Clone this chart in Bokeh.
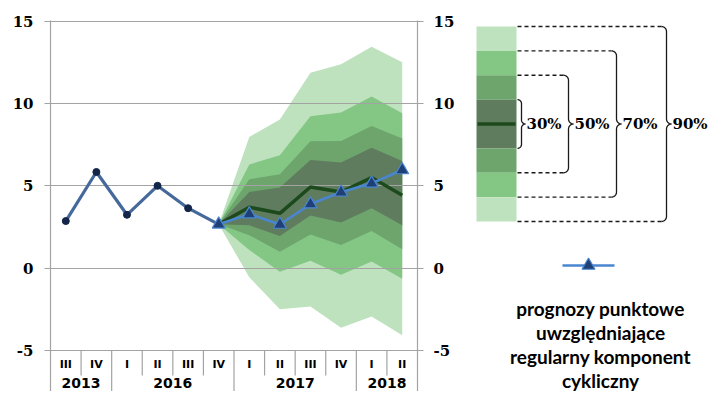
import numpy as np
from bokeh.plotting import figure
from bokeh.models import (FactorRange, Range1d, LinearAxis, FixedTicker,
                          PrintfTickFormatter)
from bokeh.layouts import row
from bokeh.embed import file_html
from bokeh.resources import INLINE
from bokeh.core.properties import value

# ---------------- data ----------------
years = ["2013", "2013", "2016", "2016", "2016", "2016",
         "2017", "2017", "2017", "2017", "2018", "2018"]
quarters = ["III", "IV", "I", "II", "III", "IV",
            "I", "II", "III", "IV", "I", "II"]
hist_values = [2.86, 5.84, 3.24, 5.00, 3.64, 2.66]          # III 2013 .. IV 2016
fan_first = 5                                               # fan starts at IV 2016
central = [2.66, 3.70, 3.33, 4.93, 4.62, 5.50, 4.43]
forecast = [2.66, 3.28, 2.65, 3.89, 4.61, 5.15, 5.96]
hi90 = [2.66, 7.97, 9.03, 11.86, 12.38, 13.45, 12.50]
lo90 = [2.66, -0.55, -2.50, -2.33, -3.62, -2.93, -4.07]
hi70 = [2.66, 6.30, 6.85, 9.22, 9.45, 10.42, 9.40]
lo70 = [2.66, 1.10, -0.22, 0.45, -0.40, 0.40, -0.65]
hi50 = [2.66, 5.40, 5.70, 7.71, 7.72, 8.64, 7.87]
lo50 = [2.66, 2.00, 1.00, 2.05, 1.40, 2.25, 1.15]
hi30 = [2.66, 4.62, 4.90, 6.56, 6.42, 7.31, 6.50]
lo30 = [2.66, 2.60, 1.95, 3.20, 2.77, 3.64, 2.60]
y_ticks = [-5, 0, 5, 10, 15]
band_labels = ["30%", "50%", "70%", "90%"]
legend_text = ["prognozy punktowe", "uwzględniające", "regularny komponent", "cykliczny"]

# ---------------- styles ----------------
C90, C70, C50, C30 = "#bee2be", "#84c684", "#6da56d", "#5f7c5f"
CCENTRAL = "#1c4a1c"
CHIST = "#46699b"
CFORE = "#4a86d0"
CTRI = "#1f3f77"
GRID = "#a3a3a3"

factors = list(zip(years, quarters))
fan_x = factors[fan_first:]

x_range = FactorRange(*factors, factor_padding=0, group_padding=0,
                      subgroup_padding=0, range_padding=0)

FIG_H = 391
TOP = 21
px_per_unit = (350 - TOP) / 20.0
frame_h = FIG_H - TOP
y_top = 15.0
y_bottom = y_top - frame_h / px_per_unit
y_range = Range1d(y_bottom, y_top + 0.04)

p = figure(width=457, height=FIG_H, x_range=x_range, y_range=y_range,
           output_backend="svg", toolbar_location=None,
           x_axis_location=None, y_axis_location="left",
           min_border_left=50, min_border_right=38, min_border_top=TOP - 1,
           min_border_bottom=0)
p.outline_line_color = None
p.xgrid.visible = False
p.ygrid.visible = False

# fan bands
for lo, hi, c in [(lo90, hi90, C90), (lo70, hi70, C70), (lo50, hi50, C50), (lo30, hi30, C30)]:
    p.varea(x=fan_x, y1=lo, y2=hi, fill_color=c)

# gridlines drawn over the bands
p.hspan(y=y_ticks, line_color=GRID, line_width=1.2)

# category table below the plot
q_y = -5 - 14 / px_per_unit
yr_y = -5 - 33 / px_per_unit
short_end = -5 - 25 / px_per_unit
sep_x, sep_y1 = [], []
for i in range(1, len(factors)):
    sep_x.append((years[i], quarters[i], -0.5))
    sep_y1.append(y_bottom if years[i] != years[i - 1] else short_end)
p.segment(x0=sep_x, x1=sep_x, y0=[-5] * len(sep_x), y1=sep_y1,
          line_color=GRID, line_width=1.2)
p.text(x=factors, y=[q_y] * len(factors), text=quarters,
       text_align="center", text_baseline="middle",
       text_font=value("DejaVu Sans"), text_font_style="bold",
       text_font_size="11px", text_color="black")
uniq_years = list(dict.fromkeys(years))
p.text(x=uniq_years, y=[yr_y] * len(uniq_years), text=uniq_years,
       text_align="center", text_baseline="middle",
       text_font=value("DejaVu Sans"), text_font_style="bold",
       text_font_size="14px", text_color="black")

# historical
p.line(x=factors[:len(hist_values)], y=hist_values, line_color=CHIST, line_width=3.2)
p.scatter(x=factors[:len(hist_values) - 1], y=hist_values[:-1], size=7,
          fill_color="#14254a", line_color="#14254a")

# central path and forecast
p.line(x=fan_x, y=central, line_color=CCENTRAL, line_width=3.5)
p.line(x=fan_x, y=forecast, line_color=CFORE, line_width=2.6)
p.scatter(x=fan_x, y=forecast, marker="triangle", size=13,
          fill_color=CTRI, line_color=CFORE, line_width=1.2)

# axes
def style_axis(ax):
    ax.ticker = FixedTicker(ticks=y_ticks)
    ax.formatter = PrintfTickFormatter(format="%d")
    ax.axis_line_color = GRID
    ax.axis_line_width = 1.2
    ax.major_tick_line_color = GRID
    ax.major_tick_line_width = 1.2
    ax.major_tick_in = 0
    ax.major_tick_out = 6
    ax.minor_tick_line_color = None
    ax.major_label_text_font = "DejaVu Serif"
    ax.major_label_text_font_style = "bold"
    ax.major_label_text_font_size = "15px"
    ax.major_label_text_color = "black"

style_axis(p.yaxis[0])
p.yaxis[0].major_label_standoff = 11
rax = LinearAxis()
style_axis(rax)
rax.major_label_standoff = 10
p.add_layout(rax, "right")

# ---------------- legend panel (data units = page pixels) ----------------
L_X0, L_X1 = 457, 710
L_TOP = TOP - 1
lg = figure(width=L_X1 - L_X0, height=FIG_H, x_range=Range1d(L_X0, L_X1),
            y_range=Range1d(FIG_H, L_TOP), output_backend="svg", toolbar_location=None,
            x_axis_location=None, y_axis_location=None,
            min_border_left=0, min_border_right=0, min_border_top=L_TOP,
            min_border_bottom=0)
lg.outline_line_color = None
lg.xgrid.visible = False
lg.ygrid.visible = False

bx0, bx1 = 476, 516
by0, by1 = 26, 221
nb = 8
bh = (by1 - by0) / nb
block_cols = [C90, C70, C50, C30, C30, C50, C70, C90]
tops = [by0 + i * bh for i in range(nb)]
lg.quad(left=bx0, right=bx1, top=tops, bottom=[t + bh for t in tops],
        fill_color=block_cols, line_color=None)
ymid = (by0 + by1) / 2
lg.line(x=[bx0 + 1, bx1 - 1], y=[ymid, ymid], line_color=CCENTRAL, line_width=3.5)


def brace(xv, ytop, ybot, r=5, arm_x0=None):
    ym = (ytop + ybot) / 2
    pts = []
    def arc(cx, cy, t0, t1):
        t = np.linspace(t0, t1, 8)
        return list(zip(cx + r * np.cos(t), cy + r * np.sin(t)))
    pts += arc(xv - r, ytop + r, 1.5 * np.pi, 2 * np.pi)
    pts += arc(xv + r, ym - r, np.pi, 0.5 * np.pi)
    pts += arc(xv + r, ym + r, 1.5 * np.pi, np.pi)
    pts += arc(xv - r, ybot - r, 0.0, 0.5 * np.pi)
    xs, ys = zip(*pts)
    lg.line(x=list(xs), y=list(ys), line_color="#1a1a1a", line_width=1.3)
    if arm_x0 is not None:
        lg.multi_line(xs=[[arm_x0, xv - r], [arm_x0, xv - r]], ys=[[ytop, ytop], [ybot, ybot]],
                      line_color="#1a1a1a", line_width=1.3, line_dash="4 3")
    return xv + r


brace_x = [521, 568, 616, 666]
for k, lab in enumerate(band_labels):
    ytop = by0 + (3 - k) * bh
    ybot = by1 - (3 - k) * bh
    tip = brace(brace_x[k], ytop, ybot, r=5 if k else 4,
                arm_x0=None if k == 0 else bx1 + 1)
    lg.text(x=[tip + 1], y=[ymid], text=[lab], text_align="left", text_baseline="middle",
            text_font=value("DejaVu Serif"), text_font_style="bold",
            text_font_size="15px", text_color="black")

# forecast legend entry
lg.line(x=[562, 614], y=[265, 265], line_color=CFORE, line_width=2.6)
lg.scatter(x=[588], y=[265], marker="triangle", size=13,
           fill_color=CTRI, line_color=CFORE, line_width=1.2)
lg.text(x=[600] * len(legend_text), y=[308, 332, 356, 380], text=legend_text,
        text_align="center", text_baseline="middle",
        text_font=value("Lato"), text_font_style="bold",
        text_font_size="19px", text_color="black")

layout = row(p, lg)
open("out.html", "w").write(file_html(layout, INLINE))
